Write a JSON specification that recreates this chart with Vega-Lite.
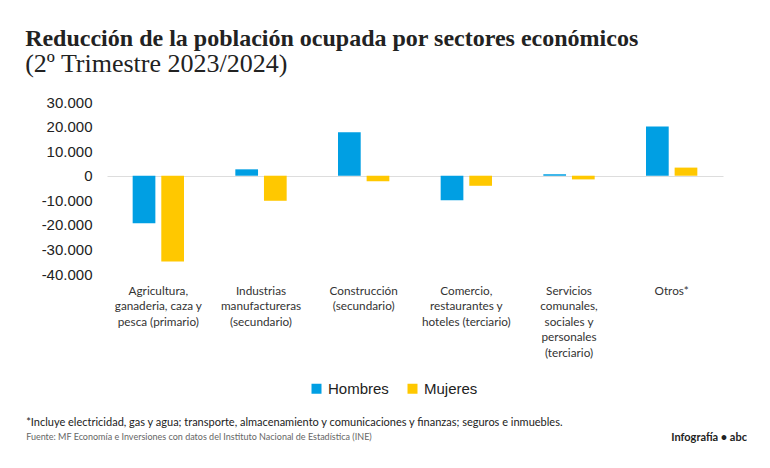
{
  "$schema": "https://vega.github.io/schema/vega-lite/v6.json",
  "autosize": {"type": "pad"},
  "padding": {"left": 25, "top": 27, "right": 0, "bottom": 0},
  "background": "#ffffff",
  "title": {
    "text": "Reducción de la población ocupada por sectores económicos",
    "subtitle": "(2º Trimestre 2023/2024)",
    "anchor": "start",
    "dx": -1,
    "offset": 18,
    "font": "Liberation Serif",
    "fontSize": 24,
    "fontWeight": "bold",
    "color": "#222222",
    "subtitleFont": "Liberation Serif",
    "subtitleFontSize": 26,
    "subtitleColor": "#222222",
    "subtitlePadding": 0
  },
  "config": {"view": {"stroke": null}},
  "vconcat": [
    {
      "title": {
        "text": "Infografía • abc",
        "orient": "bottom",
        "anchor": "end",
        "dx": 24,
        "dy": -10,
        "offset": 0,
        "font": "Lato",
        "fontSize": 11,
        "fontWeight": "bold",
        "color": "#222222"
      },
      "vconcat": [
        {
          "title": {
            "text": "*Incluye electricidad, gas y agua; transporte, almacenamiento y comunicaciones y finanzas; seguros e inmuebles.",
            "subtitle": "Fuente: MF Economía e Inversiones con datos del Instituto Nacional de Estadística (INE)",
            "orient": "bottom",
            "anchor": "start",
            "dx": -15,
            "offset": 58,
            "font": "Lato",
            "fontSize": 11,
            "fontWeight": "normal",
            "color": "#222222",
            "subtitleFont": "Lato",
            "subtitleFontSize": 9,
            "subtitleColor": "#666666",
            "subtitlePadding": 5
          },
          "width": 616,
          "height": 172,
          "data": {
            "values": [
              {"sector": "Agricultura,|ganaderia, caza y|pesca (primario)", "sexo": "Hombres", "valor": -19300},
              {"sector": "Agricultura,|ganaderia, caza y|pesca (primario)", "sexo": "Mujeres", "valor": -34900},
              {"sector": "Industrias|manufactureras|(secundario)", "sexo": "Hombres", "valor": 2600},
              {"sector": "Industrias|manufactureras|(secundario)", "sexo": "Mujeres", "valor": -10200},
              {"sector": "Construcción|(secundario)", "sexo": "Hombres", "valor": 17700},
              {"sector": "Construcción|(secundario)", "sexo": "Mujeres", "valor": -2300},
              {"sector": "Comercio,|restaurantes y|hoteles (terciario)", "sexo": "Hombres", "valor": -10000},
              {"sector": "Comercio,|restaurantes y|hoteles (terciario)", "sexo": "Mujeres", "valor": -4100},
              {"sector": "Servicios|comunales,|sociales y|personales|(terciario)", "sexo": "Hombres", "valor": 600},
              {"sector": "Servicios|comunales,|sociales y|personales|(terciario)", "sexo": "Mujeres", "valor": -1500},
              {"sector": "Otros*", "sexo": "Hombres", "valor": 20000},
              {"sector": "Otros*", "sexo": "Mujeres", "valor": 3300}
            ]
          },
          "mark": {"type": "bar"},
          "encoding": {
            "x": {
              "field": "sector",
              "type": "nominal",
              "sort": null,
              "scale": {"paddingInner": 0.5, "paddingOuter": 0.25},
              "axis": {
                "title": null,
                "domain": false,
                "ticks": false,
                "labelAngle": 0,
                "labelPadding": 11,
                "labelFont": "Lato",
                "labelFontSize": 11.75,
                "labelLineHeight": 15.5,
                "labelColor": "#333333",
                "labelLimit": 0,
                "labelBaseline": "top",
                "labelExpr": "split(datum.label, '|')"
              }
            },
            "xOffset": {
              "field": "sexo",
              "type": "nominal",
              "sort": ["Hombres", "Mujeres"],
              "scale": {"paddingInner": 0.207, "paddingOuter": 0}
            },
            "y": {
              "field": "valor",
              "type": "quantitative",
              "scale": {"domain": [-40000, 30000], "nice": false},
              "axis": {
                "title": null,
                "domain": false,
                "ticks": false,
                "grid": true,
                "gridColor": {"condition": {"test": "datum.value === 0", "value": "#dddddd"}, "value": "transparent"},
                "gridWidth": 1,
                "labelOverlap": false,
                "values": [-40000, -30000, -20000, -10000, 0, 10000, 20000, 30000],
                "labelPadding": 15,
                "labelFont": "Liberation Sans",
                "labelFontSize": 15,
                "labelColor": "#222222",
                "labelExpr": "replace(replace(format(datum.value, ','), ',', '.'), '−', '-')"
              }
            },
            "color": {
              "field": "sexo",
              "type": "nominal",
              "scale": {"domain": ["Hombres", "Mujeres"], "range": ["#009fe3", "#ffc800"]},
              "legend": {
                "title": null,
                "orient": "none",
                "direction": "horizontal",
                "legendX": 202,
                "legendY": 279,
                "symbolType": "square",
                "symbolSize": 100,
                "symbolStrokeWidth": 0,
                "labelFont": "Liberation Sans",
                "labelFontSize": 15,
                "labelColor": "#222222",
                "labelOffset": 4,
                "columnPadding": 16
              }
            }
          }
        }
      ]
    }
  ]
}
